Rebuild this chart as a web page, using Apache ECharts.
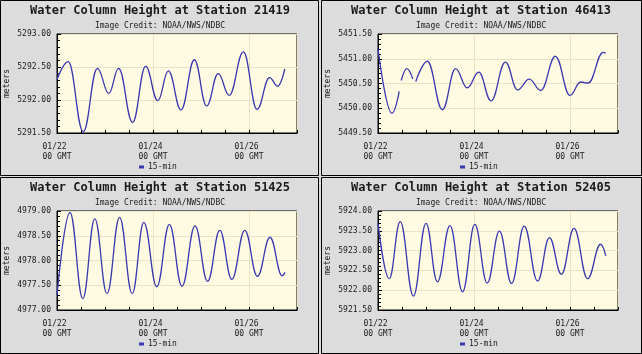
<!DOCTYPE html>
<html>
<head>
<meta charset="utf-8">
<script src="https://cdn.jsdelivr.net/npm/echarts@6/dist/echarts.min.js"></script>
<style>
  html, body { margin: 0; padding: 0; background: #fff; }
  #chart { width: 642px; height: 354px; }
</style>
</head>
<body>
<div id="chart"></div>
<script>
// hours since 01/22 00 GMT, levels in meters
const stations = ['21419', '46413', '51425', '52405'];

const hours21419 = [0, 5.6, 13.1, 20.2, 25.9, 30.8, 37.8, 44.3, 50.4, 55.7, 62.0, 68.7, 74.8, 80.6, 86.1, 93.2, 100.0, 106.3, 110.3, 113.9];
const level21419 = [5292.31, 5292.58, 5291.52, 5292.48, 5292.10, 5292.48, 5291.66, 5292.51, 5291.99, 5292.44, 5291.85, 5292.61, 5291.91, 5292.40, 5292.07, 5292.73, 5291.86, 5292.34, 5292.21, 5292.47];

// null = gap in the record
const hours46413 = [0, 7.0, 10.6, 11.1, 11.6, 14.4, 17.4, 18.2, 18.9, 24.7, 32.2, 38.8, 44.6, 50.4, 56.5, 63.7, 69.8, 75.6, 81.4, 88.7, 96.0, 101.3, 105.1, 112.6, 113.9];
const level46413 = [5451.20, 5449.90, 5450.34, null, 5450.56, 5450.80, 5450.59, null, 5450.54, 5450.95, 5449.97, 5450.80, 5450.41, 5450.73, 5450.15, 5450.93, 5450.37, 5450.59, 5450.36, 5451.05, 5450.26, 5450.53, 5450.51, 5451.13, 5451.11];

const hours51425 = [0, 6.5, 12.9, 18.9, 25.0, 31.3, 37.6, 43.4, 49.9, 56.2, 62.5, 69.0, 75.3, 81.4, 87.4, 93.9, 100.2, 106.5, 112.6, 113.9];
const level51425 = [4977.30, 4978.97, 4977.23, 4978.84, 4977.33, 4978.87, 4977.33, 4978.77, 4977.47, 4978.73, 4977.48, 4978.70, 4977.58, 4978.61, 4977.62, 4978.61, 4977.68, 4978.47, 4977.69, 4977.76];

const hours52405 = [0, 5.6, 11.1, 17.7, 24.0, 29.7, 36.0, 42.3, 48.4, 54.6, 60.7, 66.8, 73.1, 79.8, 85.7, 91.7, 98.0, 104.8, 111.3, 113.9];
const level52405 = [5923.69, 5922.29, 5923.73, 5921.85, 5923.69, 5922.21, 5923.63, 5921.96, 5923.66, 5922.18, 5923.49, 5922.17, 5923.62, 5922.23, 5923.33, 5922.40, 5923.56, 5922.29, 5923.16, 5922.87];

const yMin = [5291.5, 5449.5, 4977.0, 5921.5];
const yMax = [5293.0, 5451.5, 4979.0, 5924.0];
const dayLabels = ['01/22', '01/24', '01/26'];

const allHours = [hours21419, hours46413, hours51425, hours52405];
const allLevels = [level21419, level46413, level51425, level52405];

const mono = 'DejaVu Sans Mono';
const ink = '#1a1a1a';
const lineColor = '#3838b0';
const offsets = [[0, 0], [321, 0], [0, 177], [321, 177]];

const chart = echarts.init(document.getElementById('chart'));

const titles = [], grids = [], xAxes = [], yAxes = [], series = [], legends = [], borders = [];

stations.forEach((id, i) => {
  const [ox, oy] = offsets[i];
  titles.push({
    text: 'Water Column Height at Station ' + id,
    subtext: 'Image Credit: NOAA/NWS/NDBC',
    left: ox + 160, top: oy + 5, textAlign: 'center', itemGap: 5, padding: 0,
    textStyle: { fontFamily: mono, fontWeight: 'bold', fontSize: 12, color: ink },
    subtextStyle: { fontFamily: mono, fontSize: 8, color: ink }
  });
  grids.push({
    left: ox + 57, top: oy + 34, width: 240, height: 99,
    show: true, backgroundColor: '#fffbe2', borderColor: '#000', borderWidth: 1
  });
  // ticks every 12 h, labelled every 48 h
  xAxes.push({
    type: 'value', gridIndex: i, min: 0, max: 120, interval: 12,
    axisLine: { lineStyle: { color: '#000' } },
    axisTick: { inside: true, length: 3, lineStyle: { color: '#000' } },
    splitLine: { show: false },
    axisLabel: {
      fontFamily: mono, fontSize: 8, color: ink, margin: 9, lineHeight: 10,
      formatter: v => (v % 48 === 0 && v < 120) ? dayLabels[v / 48] + ' \n00 GMT' : ''
    }
  });
  // day gridlines
  xAxes.push({
    type: 'value', gridIndex: i, min: 0, max: 120, interval: 48,
    axisLine: { show: false }, axisTick: { show: false }, axisLabel: { show: false },
    splitLine: { show: true, lineStyle: { color: '#e9e2c6', width: 1 } }
  });
  yAxes.push({
    type: 'value', gridIndex: i, min: yMin[i], max: yMax[i], interval: 0.5,
    name: 'meters', nameLocation: 'middle', nameGap: 46,
    nameTextStyle: { fontFamily: mono, fontSize: 8, color: ink },
    axisLine: { show: true, lineStyle: { color: '#000' } },
    axisTick: { show: true, inside: true, length: 4, lineStyle: { color: '#000' } },
    minorTick: { show: true, splitNumber: 5, length: 3, lineStyle: { color: '#000' } },
    splitLine: { show: true, lineStyle: { color: '#e9e2c6', width: 1 } },
    axisLabel: { fontFamily: mono, fontSize: 8, color: ink, margin: 6, formatter: v => v.toFixed(2) }
  });
  series.push({
    name: '15-min', type: 'line', xAxisIndex: i * 2, yAxisIndex: i,
    data: allHours[i].map((h, k) => [h, allLevels[i][k] === null ? '-' : allLevels[i][k]]),
    smooth: 0.42, smoothMonotone: 'x', showSymbol: false, connectNulls: false,
    lineStyle: { color: lineColor, width: 1.3 }, itemStyle: { color: lineColor },
    animation: false
  });
  legends.push({
    data: ['15-min'], left: ox + 139, top: oy + 163, padding: 0,
    icon: 'rect', itemWidth: 5, itemHeight: 3, itemGap: 4, selectedMode: false,
    textStyle: { fontFamily: mono, fontSize: 8, color: ink, padding: [0, 0, 0, -1] }
  });
});

borders.push(
  { type: 'rect', shape: { x: 0.5, y: 0.5, width: 318, height: 175 } },
  { type: 'rect', shape: { x: 321.5, y: 0.5, width: 320, height: 175 } },
  { type: 'rect', shape: { x: 0.5, y: 177.5, width: 318, height: 176 } },
  { type: 'rect', shape: { x: 321.5, y: 177.5, width: 320, height: 176 } }
);
borders.forEach(b => { b.style = { fill: null, stroke: '#000', lineWidth: 1 }; b.silent = true; });

chart.setOption({
  animation: false,
  backgroundColor: '#dcdcdc',
  title: titles,
  grid: grids,
  xAxis: xAxes,
  yAxis: yAxes,
  legend: legends,
  series: series,
  graphic: borders
});
</script>
</body>
</html>
